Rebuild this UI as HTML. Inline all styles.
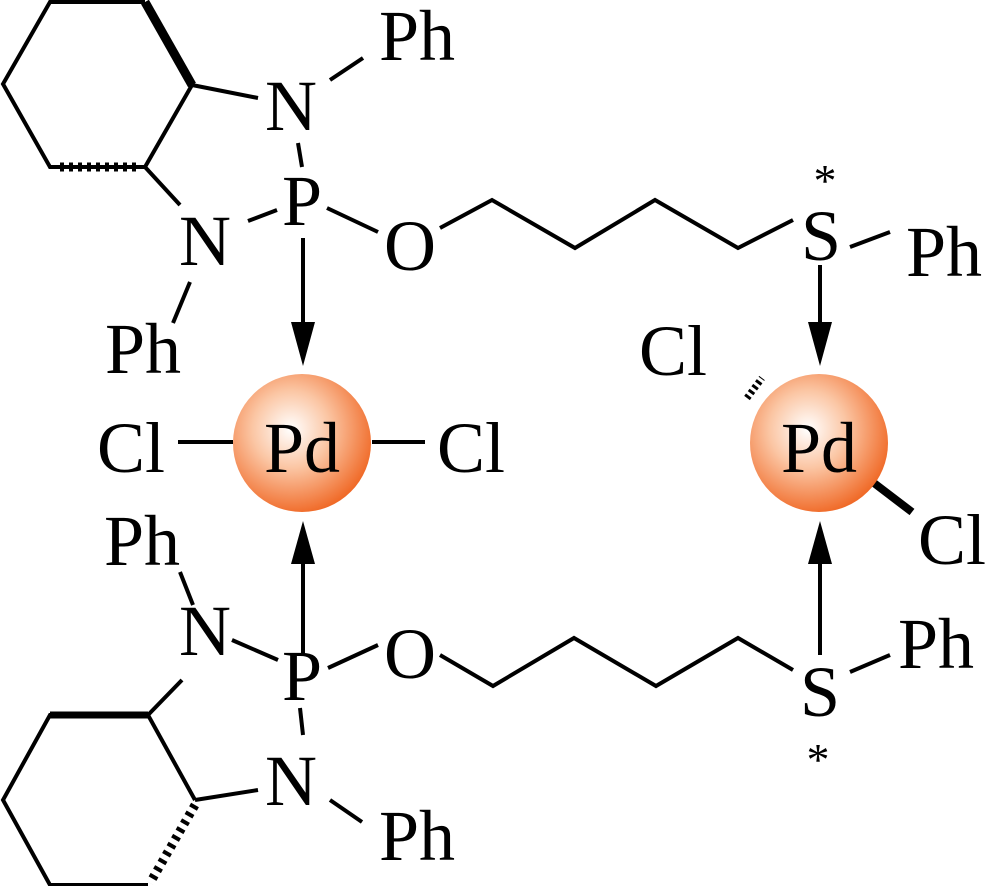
<!DOCTYPE html>
<html><head><meta charset="utf-8"><style>
html,body{margin:0;padding:0;background:#fff}
svg{display:block}
text{font-family:"Liberation Serif",serif;font-size:72px;fill:#000}
</style></head><body>
<svg width="987" height="886" viewBox="0 0 987 886" xmlns="http://www.w3.org/2000/svg">
<defs>
<radialGradient id="g" cx="0.42" cy="0.4" r="0.62">
<stop offset="0" stop-color="#ffffff"/>
<stop offset="0.45" stop-color="#fbc6a4"/>
<stop offset="1" stop-color="#f06a28"/>
</radialGradient>
</defs>
<g stroke="#000" stroke-width="4" fill="none" stroke-linecap="butt">
<polyline points="145,167 50,167 3,84 50,2 145,2"/>
<line x1="145" y1="2" x2="192" y2="85" stroke-width="9"/>
<line x1="192" y1="85" x2="145" y2="167"/>
<line x1="192" y1="85" x2="258" y2="98"/>
<line x1="145" y1="167" x2="180" y2="205"/>
<line x1="60" y1="167" x2="137" y2="167" stroke-width="9" stroke-dasharray="4,5"/>
<line x1="330" y1="80" x2="363" y2="58"/>
<line x1="298" y1="143" x2="302" y2="167"/>
<line x1="277" y1="210" x2="248" y2="221"/>
<line x1="190" y1="282" x2="173" y2="323"/>
<line x1="327" y1="208" x2="378" y2="232"/>
<polyline points="440,228 492,200 575,248 655,200 738,248 793,220"/>
<line x1="850" y1="247" x2="890" y2="232"/>
<line x1="303" y1="238" x2="303" y2="330"/>
<line x1="820" y1="265" x2="820" y2="330"/>
<line x1="178" y1="442" x2="233" y2="442"/>
<line x1="372" y1="442" x2="425" y2="442"/>
<line x1="870" y1="480" x2="912" y2="512" stroke-width="8"/>
<line x1="747" y1="398" x2="762" y2="378" stroke-width="7" stroke-dasharray="3,3"/>
<line x1="303" y1="655" x2="303" y2="555"/>
<line x1="820" y1="655" x2="820" y2="555"/>
<polyline points="148,715 50,715 3,800 50,885 148,885"/>
<line x1="50" y1="715" x2="148" y2="715" stroke-width="7"/>
<line x1="148" y1="715" x2="195" y2="800"/>
<line x1="148" y1="715" x2="182" y2="680"/>
<line x1="195" y1="800" x2="258" y2="790"/>
<line x1="195" y1="805" x2="150" y2="883" stroke-width="9" stroke-dasharray="4,5"/>
<line x1="180" y1="572" x2="193" y2="605"/>
<line x1="232" y1="640" x2="278" y2="660"/>
<line x1="300" y1="708" x2="303" y2="735"/>
<line x1="330" y1="800" x2="362" y2="822"/>
<line x1="328" y1="668" x2="378" y2="645"/>
<polyline points="440,655 493,686 574,638 656,686 738,638 793,670"/>
<line x1="850" y1="672" x2="890" y2="655"/>
</g>
<g fill="#000">
<polygon points="291,322 315,322 303,366"/>
<polygon points="808,322 832,322 820,366"/>
<polygon points="291,564 315,564 303,521"/>
<polygon points="808,564 832,564 820,521"/>
</g>
<circle cx="302" cy="443" r="69" fill="url(#g)"/>
<circle cx="819" cy="443" r="69" fill="url(#g)"/>
<g text-anchor="middle">
<text x="417" y="60">Ph</text>
<text x="291" y="130">N</text>
<text x="302" y="225">P</text>
<text x="205" y="265">N</text>
<text x="410" y="270">O</text>
<text x="143" y="373">Ph</text>
<text x="821" y="260">S</text>
<text x="825" y="196" style="font-size:46px">*</text>
<text x="944" y="276">Ph</text>
<text x="131" y="472">Cl</text>
<text x="302" y="472">Pd</text>
<text x="471" y="472">Cl</text>
<text x="673" y="375">Cl</text>
<text x="819" y="472">Pd</text>
<text x="952" y="564">Cl</text>
<text x="142" y="565">Ph</text>
<text x="205" y="655">N</text>
<text x="302" y="700">P</text>
<text x="410" y="678">O</text>
<text x="291" y="805">N</text>
<text x="417" y="860">Ph</text>
<text x="820" y="716">S</text>
<text x="936" y="668">Ph</text>
<text x="818" y="775" style="font-size:46px">*</text>
</g>
</svg>
</body></html>
